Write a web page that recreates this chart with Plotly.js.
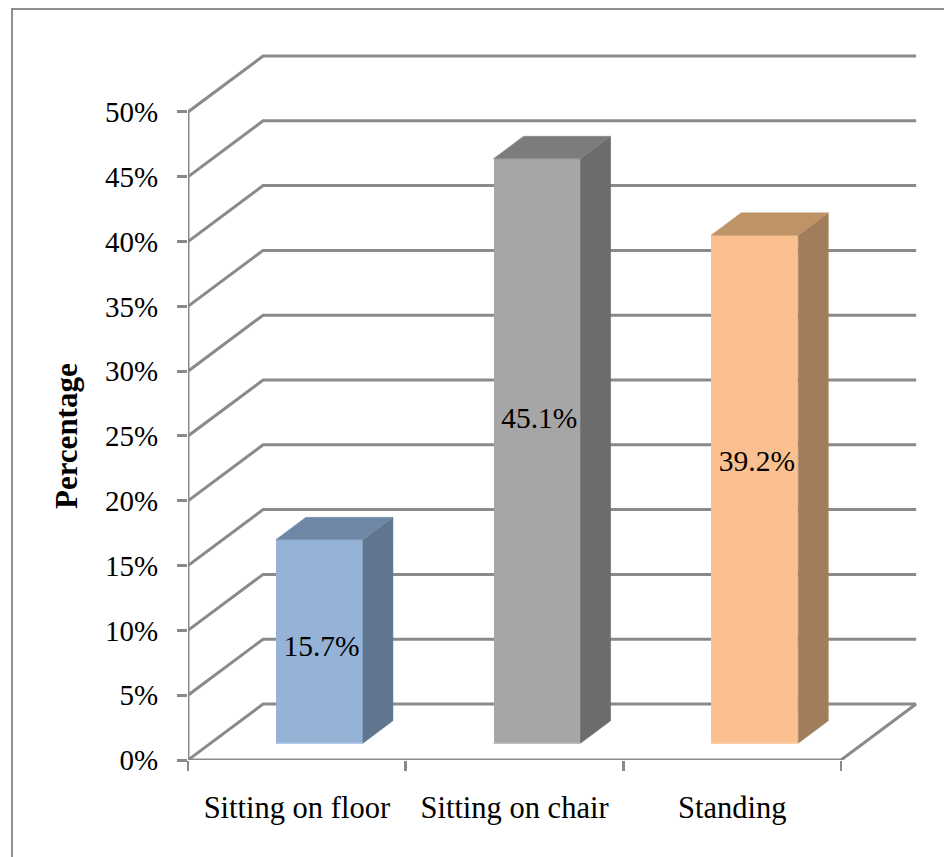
<!DOCTYPE html>
<html>
<head>
<meta charset="utf-8">
<script src="https://cdn.plot.ly/plotly-3.0.1.min.js"></script>
<style>
html,body{margin:0;padding:0;background:#fff;overflow:hidden}
#frame{position:absolute;left:11px;top:8px;width:940px;height:860px;border-left:2.5px solid #8f8f8f;border-top:2.5px solid #8f8f8f}
#chart{position:absolute;left:0;top:0;width:944px;height:857px}
</style>
</head>
<body>
<div id="frame"></div>
<div id="chart"></div>
<script>
const categories = ['Sitting on floor', 'Sitting on chair', 'Standing'];
const values = [15.7, 45.1, 39.2];
const labels = ['15.7%', '45.1%', '39.2%'];
const labelHeights = [7.3, 24.9, 21.6];
const frontColors = ['#95B3D7', '#A6A6A6', '#FAC08F'];
const sideColors = ['#5F7590', '#6C6C6C', '#A27D5B'];
const topColors = ['#6F87A6', '#7C7C7C', '#BF9368'];
const baseColors = ['#B0C9E6', '#BDBDBD', '#FFD0A8'];
const yTicks = [0, 5, 10, 15, 20, 25, 30, 35, 40, 45, 50];
const yTickText = yTicks.map(v => v + '%');

const gridColor = '#8A8A8A';
const lineW = 3;
const depthX = 0.345, depthY = 4.32;      // 3-D projection of full chart depth, in axis units
const barFront = 0.3, barBack = 0.7, barW = 0.4;
const xRange = [-0.5, 2.973], yRange = [0, 58.64];
const serif = '"Liberation Serif", serif';
const P = (x, y, d) => [x + d * depthX, y + d * depthY];

const traces = [];
const line = (pts) => traces.push({
  type: 'scatter', mode: 'lines', x: pts.map(p => p[0]), y: pts.map(p => p[1]),
  line: {color: gridColor, width: lineW}, cliponaxis: false, hoverinfo: 'skip', showlegend: false
});

// walls and floor
yTicks.forEach(v => {
  line([P(-0.5, v, 0), P(-0.5, v, 1), P(2.5, v, 1)]);
});
line([P(-0.5, 0, 0), P(-0.5, 50, 0)]);
line([P(-0.5, 0, 0), P(2.5, 0, 0), P(2.5, 0, 1)]);

// columns
traces.push({
  type: 'bar', xaxis: 'x2', yaxis: 'y2',
  x: categories.map((c, i) => i + barFront * depthX),
  y: values, base: values.map(() => barFront * depthY), width: barW,
  marker: {color: frontColors, line: {width: 0}},
  hoverinfo: 'skip', showlegend: false
});
const poly = (pts, color) => traces.push({
  type: 'scatter', mode: 'lines', xaxis: 'x2', yaxis: 'y2', fill: 'toself', fillcolor: color,
  x: pts.map(p => p[0]), y: pts.map(p => p[1]), line: {color: color, width: 0.5},
  cliponaxis: false, hoverinfo: 'skip', showlegend: false
});
values.forEach((v, i) => {
  const l = i - barW / 2, r = i + barW / 2;
  poly([P(r, 0, barFront), P(r, 0, barBack), P(r, v, barBack), P(r, v, barFront), P(r, 0, barFront)], sideColors[i]);
  poly([P(l, v, barFront), P(r, v, barFront), P(r, v, barBack), P(l, v, barBack), P(l, v, barFront)], topColors[i]);
  const a = P(l, 0, barFront), b = P(r, 0, barFront);
  traces.push({
    type: 'scatter', mode: 'lines', xaxis: 'x2', yaxis: 'y2',
    x: [a[0], b[0]], y: [a[1], b[1]], line: {color: baseColors[i], width: 1.5},
    cliponaxis: false, hoverinfo: 'skip', showlegend: false
  });
});

// data labels
traces.push({
  type: 'scatter', mode: 'text', xaxis: 'x2', yaxis: 'y2',
  x: categories.map((c, i) => i + barFront * depthX + 0.01),
  y: labelHeights.map(h => h + barFront * depthY),
  text: labels, textposition: 'middle center',
  textfont: {family: serif, size: 29.5, color: '#000'},
  cliponaxis: false, hoverinfo: 'skip', showlegend: false
});

const layout = {
  width: 944, height: 857,
  margin: {l: 188, r: 0, t: 0, b: 97, pad: 0},
  paper_bgcolor: 'rgba(0,0,0,0)', plot_bgcolor: 'rgba(0,0,0,0)',
  showlegend: false, bargap: 0,
  font: {family: serif, size: 29, color: '#000'},
  xaxis: {
    type: 'linear', range: xRange, showgrid: false, zeroline: false, showline: false,
    tickmode: 'array', tickvals: [0, 1, 2], ticktext: categories, ticks: '',
    ticklabelstandoff: 26, tickfont: {family: serif, size: 30.5, color: '#000'},
    minor: {tickmode: 'array', tickvals: [-0.5, 0.5, 1.5, 2.5], ticks: 'outside', ticklen: 10, tickwidth: 2.6, tickcolor: gridColor, showgrid: false}
  },
  yaxis: {
    range: yRange, showgrid: false, zeroline: false, showline: false,
    tickmode: 'array', tickvals: yTicks, ticktext: yTickText,
    ticks: 'outside', ticklen: 10, tickwidth: lineW, tickcolor: gridColor,
    ticklabelstandoff: 13, tickfont: {family: serif, size: 29, color: '#000'}
  },
  xaxis2: {type: 'linear', overlaying: 'x', range: xRange, visible: false},
  yaxis2: {overlaying: 'y', range: yRange, visible: false},
  annotations: [{
    text: 'Percentage', textangle: -90, showarrow: false,
    xref: 'paper', x: -0.16, xanchor: 'center', yref: 'y', y: 25, yanchor: 'middle',
    font: {family: serif, size: 31, color: '#000', weight: 'bold'}
  }]
};
Plotly.newPlot('chart', traces, layout, {displayModeBar: false, staticPlot: true});
</script>
</body>
</html>
